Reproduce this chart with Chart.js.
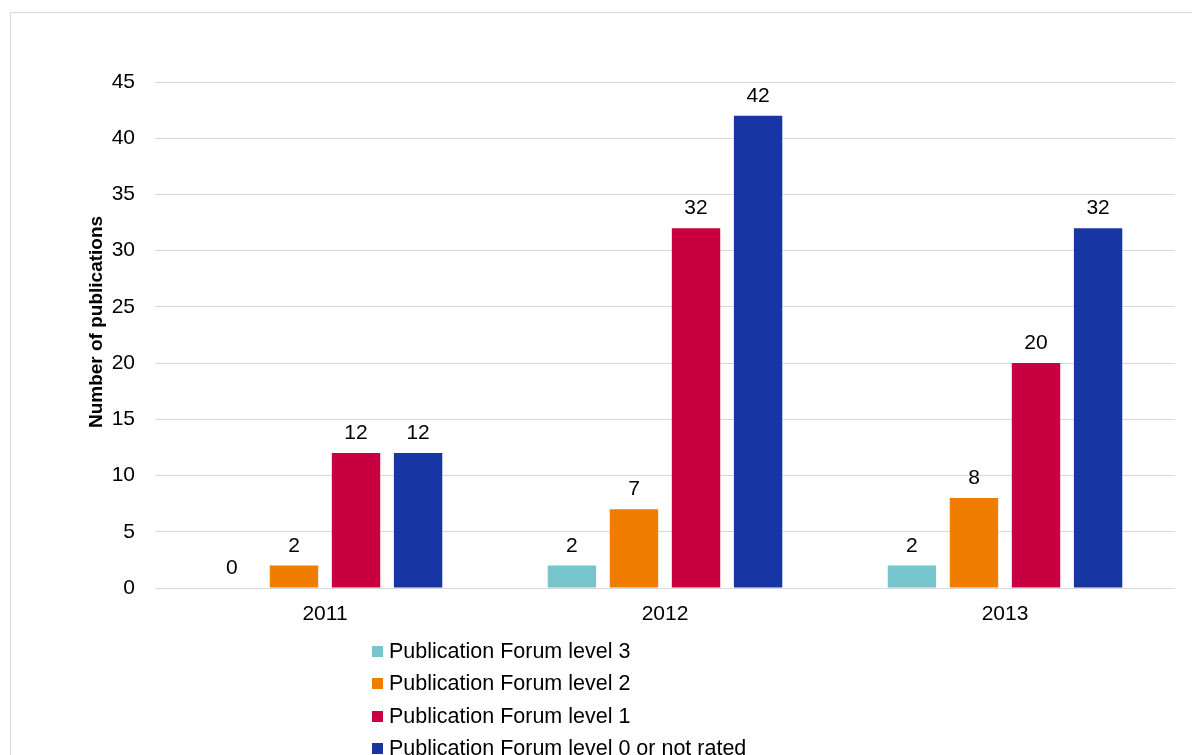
<!DOCTYPE html>
<html>
<head>
<meta charset="utf-8">
<script src="https://cdn.jsdelivr.net/npm/chart.js@4"></script>
<style>
  html, body { margin: 0; padding: 0; background: #fff; overflow: hidden; }
  body { width: 1192px; height: 755px; position: relative; font-family: "Liberation Sans", Arial, sans-serif; }
  #frame { position: absolute; left: 10px; top: 12px; width: 1300px; height: 900px; border: 1px solid #d9d9d9; }
  #wrap { position: absolute; left: 0; top: 0; width: 1192px; height: 640px; }
  #legend { position: absolute; left: 372px; top: 635px; font-size: 21.5px; color: #000; }
  #legend div { height: 32.5px; display: flex; align-items: center; white-space: nowrap; }
  #legend span.box { display: inline-block; width: 11px; height: 11px; margin-right: 6px; }
</style>
</head>
<body>
<div id="frame"></div>
<div id="wrap"><canvas id="pubs"></canvas></div>
<div id="legend"></div>
<script>
var years = ["2011", "2012", "2013"];
var level3 = [0, 2, 2];
var level2 = [2, 7, 8];
var level1 = [12, 32, 20];
var level0 = [12, 42, 32];
var seriesNames = ["Publication Forum level 3", "Publication Forum level 2", "Publication Forum level 1", "Publication Forum level 0 or not rated"];
var seriesColors = ["#77c6cd", "#f07d00", "#c80042", "#1736a4"];
var yTicks = [0, 5, 10, 15, 20, 25, 30, 35, 40, 45];
var yTitle = "Number of publications";

var fontFamily = '"Liberation Sans", Arial, sans-serif';

// draws the value above each bar + the rotated y title
var valueLabels = {
  id: 'valueLabels',
  afterDatasetsDraw: function(chart) {
    var ctx = chart.ctx;
    ctx.save();
    ctx.font = '21px ' + fontFamily;
    ctx.fillStyle = '#000';
    ctx.textAlign = 'center';
    ctx.textBaseline = 'alphabetic';
    chart.data.datasets.forEach(function(ds, i) {
      chart.getDatasetMeta(i).data.forEach(function(bar, j) {
        ctx.fillText(ds.data[j], bar.x, bar.y - 14);
      });
    });
    ctx.restore();
  },
  afterDraw: function(chart) {
    var ctx = chart.ctx;
    var area = chart.chartArea;
    ctx.save();
    ctx.translate(97, (area.top + area.bottom) / 2 - 13);
    ctx.rotate(-Math.PI / 2);
    ctx.font = 'bold 19px ' + fontFamily;
    ctx.fillStyle = '#000';
    ctx.textAlign = 'center';
    ctx.textBaseline = 'middle';
    ctx.fillText(yTitle, 0, 0);
    ctx.restore();
  }
};

var allSeries = [level3, level2, level1, level0];
var datasets = allSeries.map(function(vals, i) {
  return {
    label: seriesNames[i],
    data: vals,
    backgroundColor: seriesColors[i],
    categoryPercentage: 0.73,
    barPercentage: 0.78
  };
});

var canvas = document.getElementById("pubs");
canvas.width = 1192;
canvas.height = 640;

var chart = new Chart(canvas, {
  type: 'bar',
  data: { labels: years, datasets: datasets },
  plugins: [valueLabels],
  options: {
    responsive: false,
    animation: false,
    layout: { padding: { left: 0, right: 17, top: 82, bottom: 0 } },
    plugins: {
      legend: { display: false },
      tooltip: { enabled: false }
    },
    scales: {
      x: {
        grid: { display: false, drawTicks: false },
        border: { display: false },
        ticks: { color: '#000', font: { family: fontFamily, size: 21 }, padding: 14 },
        afterFit: function(scale) { scale.height = 52; }
      },
      y: {
        min: 0,
        max: 45,
        afterBuildTicks: function(scale) {
          scale.ticks = yTicks.map(function(v) { return { value: v }; });
        },
        grid: { color: '#d9d9d9', drawTicks: false },
        border: { display: false },
        ticks: { color: '#000', font: { family: fontFamily, size: 21 }, padding: 20 },
        afterFit: function(scale) { scale.width = 155; }
      }
    }
  }
});

// html legend, one entry per line
var legendEl = document.getElementById("legend");
chart.data.datasets.forEach(function(ds) {
  var row = document.createElement("div");
  var box = document.createElement("span");
  box.className = "box";
  box.style.background = ds.backgroundColor;
  row.appendChild(box);
  row.appendChild(document.createTextNode(ds.label));
  legendEl.appendChild(row);
});
</script>
</body>
</html>
